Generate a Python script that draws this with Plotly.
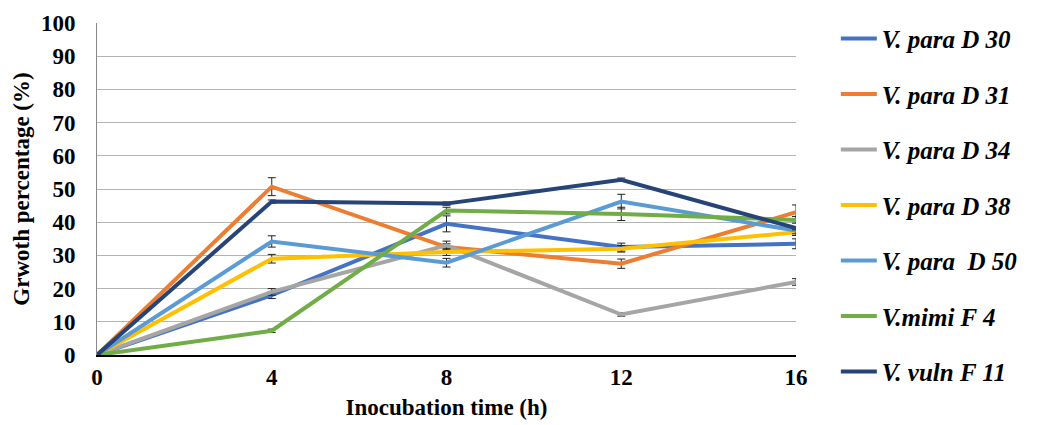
import plotly.graph_objects as go

hours = [0, 4, 8, 12, 16]
names = ["V. para D 30", "V. para D 31", "V. para D 34", "V. para D 38",
         "V. para \u00a0D 50", "V.mimi F 4", "V. vuln F 11"]
colors = ["#4472C4", "#ED7D31", "#A5A5A5", "#FFC000", "#5B9BD5", "#70AD47", "#264478"]

d30 = [0, 18, 39.5, 32.5, 33.5]
d31 = [0, 50.7, 32.5, 27.5, 43]
d34 = [0, 19, 33, 12.2, 22]
d38 = [0, 29, 31, 32, 37]
d50 = [0, 34.2, 27.8, 46.2, 37.5]
f4 = [0, 7.3, 43.5, 42.5, 40.7]
f11 = [0, 46.2, 45.6, 52.8, 38.2]
series = [d30, d31, d34, d38, d50, f4, f11]

err30 = [0, 1.0, 2.4, 1.2, 1.5]
err31 = [0, 2.7, 1.0, 1.4, 2.2]
err34 = [0, 1.0, 1.3, 0.5, 1.0]
err38 = [0, 1.3, 1.0, 1.0, 1.0]
err50 = [0, 1.7, 1.3, 2.2, 1.0]
err4 = [0, 0.5, 1.0, 2.0, 1.0]
err11 = [0, 0.5, 0.5, 0.5, 0.5]
errors = [err30, err31, err34, err38, err50, err4, err11]

y_ticks = list(range(0, 101, 10))

fig = go.Figure()
for i, (n, c, s, e) in enumerate(zip(names, colors, series, errors)):
    fig.add_trace(go.Scatter(
        x=hours, y=s, name=n, mode="lines", legendgroup=f"g{i}",
        line=dict(color=c, width=4),
        error_y=dict(type="data", array=e, visible=True, color="#222222",
                     thickness=1, width=4),
    ))

serif = "Liberation Serif, Times New Roman, serif"
# page body has an 8px margin, so the figure is drawn 8px in from the corner
fig.update_layout(
    width=1029, height=417,
    margin=dict(l=89, r=241, t=15, b=70, autoexpand=False),
    paper_bgcolor="white", plot_bgcolor="white",
    font=dict(family=serif, color="black"),
    xaxis=dict(range=[0, 16], tickvals=hours, ticks="", showgrid=False,
               showline=True, linecolor="black", linewidth=2, automargin=False,
               tickfont=dict(size=23, family=serif, weight="bold"),
               title=dict(text="Inocubation time (h)", standoff=10,
                          font=dict(size=23, family=serif, weight="bold")),
               zeroline=False),
    yaxis=dict(range=[0, 100], tickvals=y_ticks, ticks="", showgrid=True,
               gridcolor="#b4b4b4", gridwidth=1, automargin=False,
               showline=True, linecolor="#888888", linewidth=1,
               ticklabelstandoff=16,
               tickfont=dict(size=23, family=serif, weight="bold"),
               title=dict(text="Grwoth percentage (%)", standoff=4,
                          font=dict(size=23, family=serif, weight="bold")),
               zeroline=False),
    legend=dict(x=1.057, y=1.022, xanchor="left", yanchor="top", yref="paper",
                maxheight=420,
                font=dict(size=25, family=serif, weight="bold", style="italic"),
                tracegroupgap=20, itemwidth=36, bgcolor="rgba(0,0,0,0)"),
    showlegend=True,
)

fig.write_html("out.html")
